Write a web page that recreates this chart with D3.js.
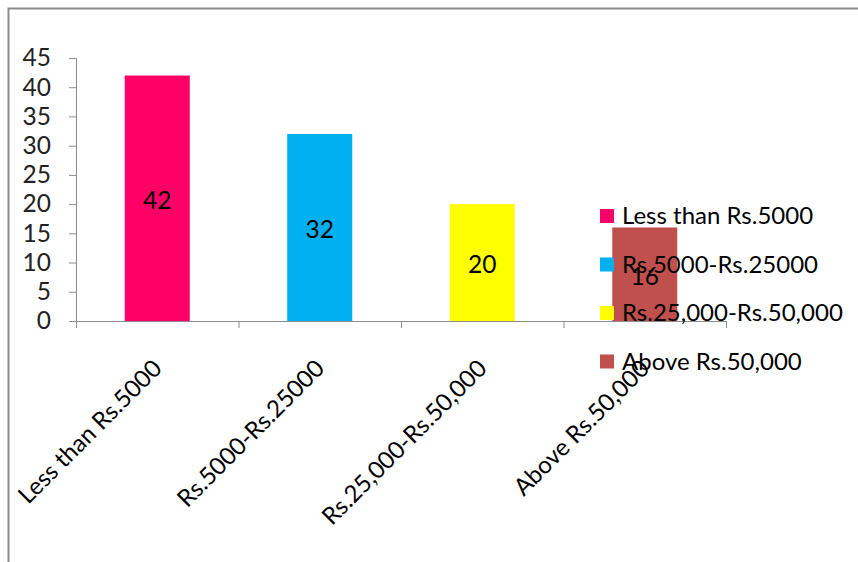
<!DOCTYPE html>
<html>
<head>
<meta charset="utf-8">
<script src="https://cdn.jsdelivr.net/npm/d3@7"></script>
<style>
  html, body { margin: 0; padding: 0; background: #fff; }
  svg { display: block; font-family: Lato, "Liberation Sans", sans-serif; }
</style>
</head>
<body>
<svg id="chart" width="858" height="562"></svg>
<script>
// Monthly income groups and respondent counts
const categories = ["Less than Rs.5000", "Rs.5000-Rs.25000", "Rs.25,000-Rs.50,000", "Above Rs.50,000"];
const values = [42, 32, 20, 16];
const colors = ["#FF0066", "#00B0F0", "#FFFF00", "#C0504D"];
const yTicks = [0, 5, 10, 15, 20, 25, 30, 35, 40, 45];

const NUM_FS = 24.5;
const svg = d3.select("#chart");

// chart-area frame (only top and left edges fall inside the view)
svg.append("rect")
  .attr("x", 8.5).attr("y", 8.5)
  .attr("width", 900).attr("height", 600)
  .attr("fill", "none").attr("stroke", "#8c8c8c").attr("stroke-width", 2);

const x = d3.scaleBand().domain(categories).range([76, 726])
  .paddingInner(0.6).paddingOuter(0.3);
const y = d3.scaleLinear().domain([0, 45]).range([321, 58]);

// y axis
const yAxis = svg.append("g").attr("transform", "translate(76,0)")
  .call(d3.axisLeft(y).tickValues(yTicks).tickSize(7).tickPadding(18));
yAxis.select(".domain").attr("stroke", "#8c8c8c");
yAxis.selectAll(".tick line").attr("stroke", "#8c8c8c");
yAxis.selectAll(".tick text")
  .attr("font-size", NUM_FS).attr("fill", "#222").attr("font-family", "Lato, sans-serif");

// bars
svg.append("g").selectAll("rect").data(values).join("rect")
  .attr("x", (d, i) => x(categories[i]))
  .attr("y", d => y(d))
  .attr("width", x.bandwidth())
  .attr("height", d => y(0) - y(d))
  .attr("fill", (d, i) => colors[i]);

// x axis with ticks between categories
const xa = svg.append("g");
xa.append("line").attr("x1", 76).attr("x2", 726)
  .attr("y1", y(0) + 0.5).attr("y2", y(0) + 0.5).attr("stroke", "#8c8c8c");
const bounds = d3.range(categories.length + 1).map(i => 76 + i * x.step());
xa.selectAll("line.tk").data(bounds).join("line").attr("class", "tk")
  .attr("x1", d => d + 0.5).attr("x2", d => d + 0.5)
  .attr("y1", y(0)).attr("y2", y(0) + 7).attr("stroke", "#8c8c8c");

// value labels in the middle of each bar
svg.append("g").selectAll("text").data(values).join("text")
  .attr("x", (d, i) => x(categories[i]) + x.bandwidth() / 2)
  .attr("y", d => (y(d) + y(0)) / 2)
  .attr("dy", "0.42em")
  .attr("text-anchor", "middle")
  .attr("font-size", NUM_FS).attr("fill", "#000")
  .text(d => d);

// rotated category labels
svg.append("g").selectAll("text").data(categories).join("text")
  .attr("transform", d => `translate(${x(d) + x.bandwidth() / 2 + 6},${y(0) + 49}) rotate(-45)`)
  .attr("text-anchor", "end")
  .attr("font-size", 24).attr("fill", "#000")
  .text(d => d);

// legend
const lg = svg.append("g").attr("transform", "translate(600,216)");
const item = lg.selectAll("g").data(categories).join("g")
  .attr("transform", (d, i) => `translate(0,${i * 48.5})`);
item.append("rect").attr("x", 0).attr("y", -7).attr("width", 14).attr("height", 14)
  .attr("fill", (d, i) => colors[i]);
item.append("text").attr("x", 22).attr("dy", "0.35em")
  .attr("font-size", 24).attr("fill", "#000")
  .text(d => d);
</script>
</body>
</html>
